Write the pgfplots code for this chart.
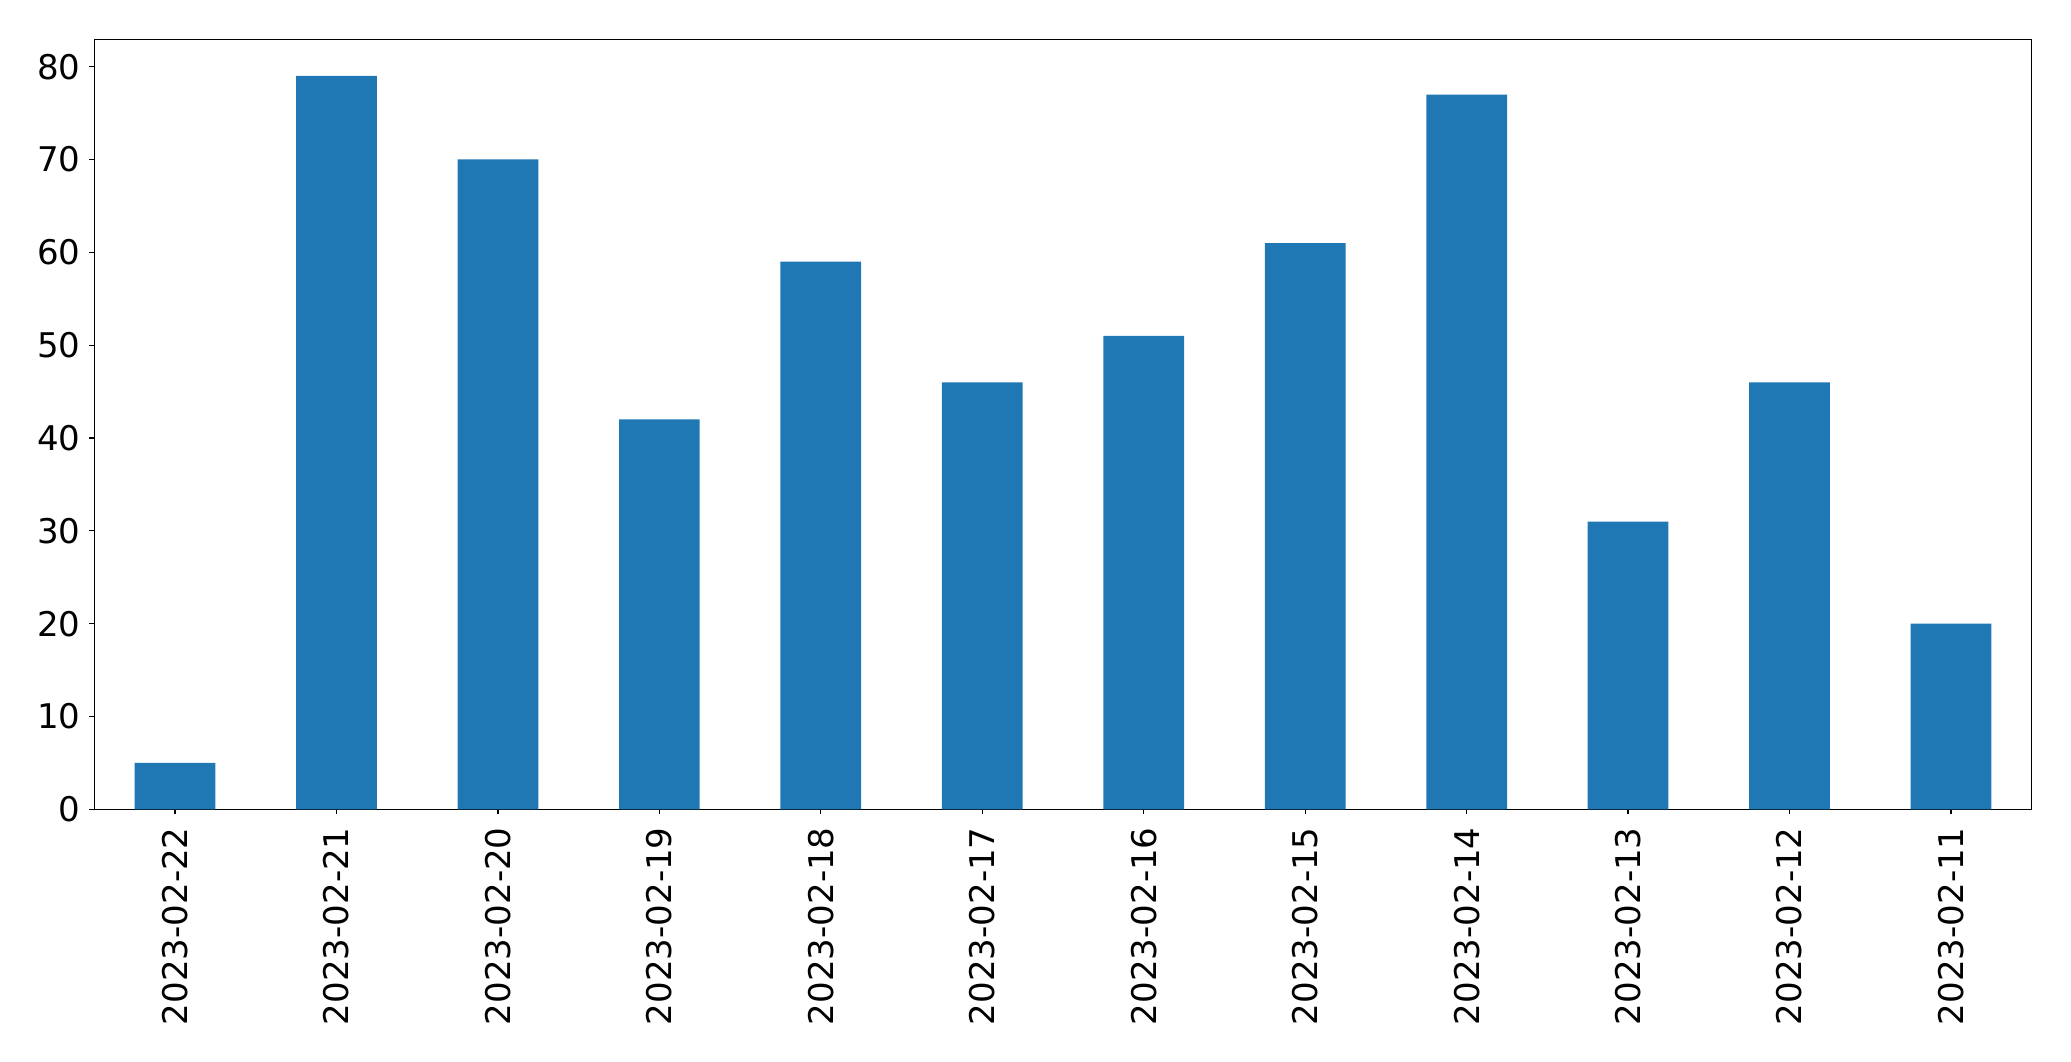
\documentclass[border=0pt]{standalone}
\usepackage{fontspec}
\setmainfont{DejaVu Sans}
\usepackage{pgfplots}
\pgfplotsset{compat=1.18}
\definecolor{mplblue}{HTML}{1F77B4}
\begin{document}
\begin{tikzpicture}
\useasboundingbox (-47.15pt,-125.85pt) rectangle (988.35pt,404.65pt);
\begin{axis}[
  at={(0pt,0pt)}, anchor=south west,
  scale only axis,
  width=968.7pt, height=385pt,
  xmin=-0.5, xmax=11.5, ymin=0, ymax=82.95,
  axis line style={line width=0.6pt},
  ytick={0,10,20,30,40,50,60,70,80},
  xtick={0,1,2,3,4,5,6,7,8,9,10,11},
  xticklabels={2023-02-22,2023-02-21,2023-02-20,2023-02-19,2023-02-18,2023-02-17,2023-02-16,2023-02-15,2023-02-14,2023-02-13,2023-02-12,2023-02-11},
  tick align=outside, tick pos=left,
  major tick length=2.5pt,
  tick style={line width=0.6pt, black},
  /pgf/number format/assume math mode=true,
  tick label style={font=\fontsize{17}{20}\selectfont},
  xticklabel style={rotate=90, anchor=east, inner sep=0pt},
  yticklabel style={inner sep=0pt},
  xticklabel shift=6.35pt,
  yticklabel shift=4.15pt,
  axis on top=false,
]
\addplot[ybar, bar width=0.5, fill=mplblue, draw=none] coordinates {
(0,5) (1,79) (2,70) (3,42) (4,59) (5,46) (6,51) (7,61) (8,77) (9,31) (10,46) (11,20)
};
\end{axis}
\end{tikzpicture}
\end{document}
